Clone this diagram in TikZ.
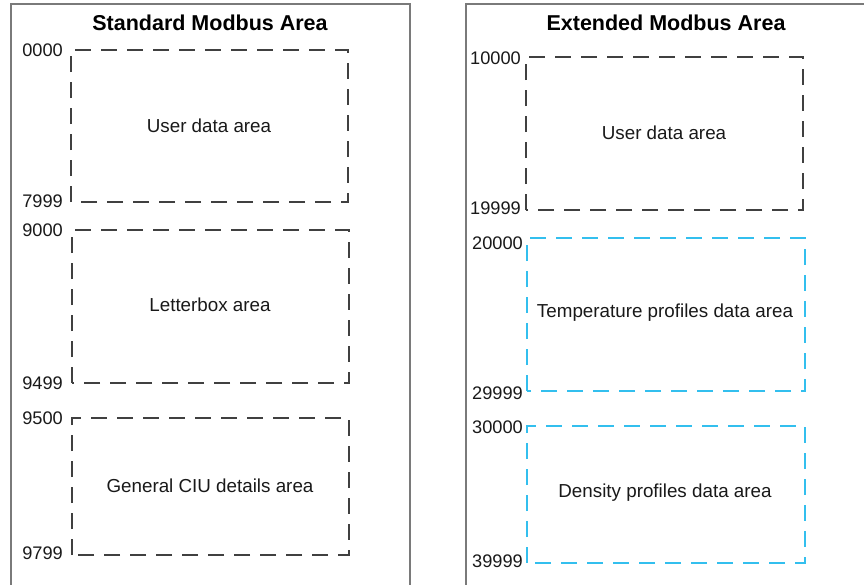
\documentclass[tikz,border=0pt]{standalone}
\usepackage{fontspec}
\setmainfont{Liberation Sans}
\definecolor{dashgray}{HTML}{404040}
\definecolor{dashblue}{HTML}{33BFEE}
\definecolor{framegray}{HTML}{7A7A7A}
\begin{document}
\begin{tikzpicture}[x=1pt,y=-1pt,
  frame/.style={draw=framegray,line width=1.3pt},
  areabox/.style={line width=1.8pt,dash pattern=on 16pt off 10pt},
  graybox/.style={areabox,draw=dashgray},
  bluebox/.style={areabox,draw=dashblue},
  title/.style={font=\fontsize{21.5}{24}\selectfont\bfseries,text=black},
  addr/.style={font=\fontsize{18.2}{20}\selectfont,anchor=east,inner sep=0pt,text=black!90},
  arealabel/.style={font=\fontsize{18.8}{21}\selectfont,text=black!90}]
\useasboundingbox (0,0) rectangle (864,584);
\begin{scope}
\clip (0,0) rectangle (864,584);
\draw[frame] (11,4) rectangle (410,600);
\draw[frame] (466,4) rectangle (880,600);
\end{scope}
% left
\node[title] (t1) at (210,23) {Standard Modbus Area};
\draw[graybox] (71,202) -- (71,50) -- (348,50) -- (348,202) -- cycle;
\node[arealabel] (l1) at (209,126) {User data area};
\node[addr] (a1) at (63,50) {0000};
\node[addr] (a2) at (63,201) {7999};
\draw[graybox] (72,383) -- (72,230) -- (349,230) -- (349,383) -- cycle;
\node[arealabel] (l2) at (210,305) {Letterbox area};
\node[addr] (a3) at (63,230) {9000};
\node[addr] (a4) at (63,383) {9499};
\draw[graybox] (72,555) -- (72,418) -- (349,418) -- (349,555) -- cycle;
\node[arealabel] (l3) at (210,486) {General CIU details area};
\node[addr] (a5) at (63,418) {9500};
\node[addr] (a6) at (63,553) {9799};
% right
\node[title] (t2) at (666,23) {Extended Modbus Area};
\draw[graybox] (526,210) -- (526,57) -- (803,57) -- (803,210) -- cycle;
\node[arealabel] (r1) at (664,133) {User data area};
\node[addr] (b1) at (521,58) {10000};
\node[addr] (b2) at (521,208) {19999};
\draw[bluebox] (527,391) -- (527,238) -- (805,238) -- (805,391) -- cycle;
\node[arealabel] (r2) at (665,313) {Temperature profiles data area};
\node[addr] (b3) at (523,243) {20000};
\node[addr] (b4) at (523,393) {29999};
\draw[bluebox] (527,563) -- (527,426) -- (805,426) -- (805,563) -- cycle;
\node[arealabel] (r3) at (665,493) {Density profiles data area};
\node[addr] (b5) at (523,427) {30000};
\node[addr] (b6) at (523,561) {39999};
\end{tikzpicture}
\end{document}
